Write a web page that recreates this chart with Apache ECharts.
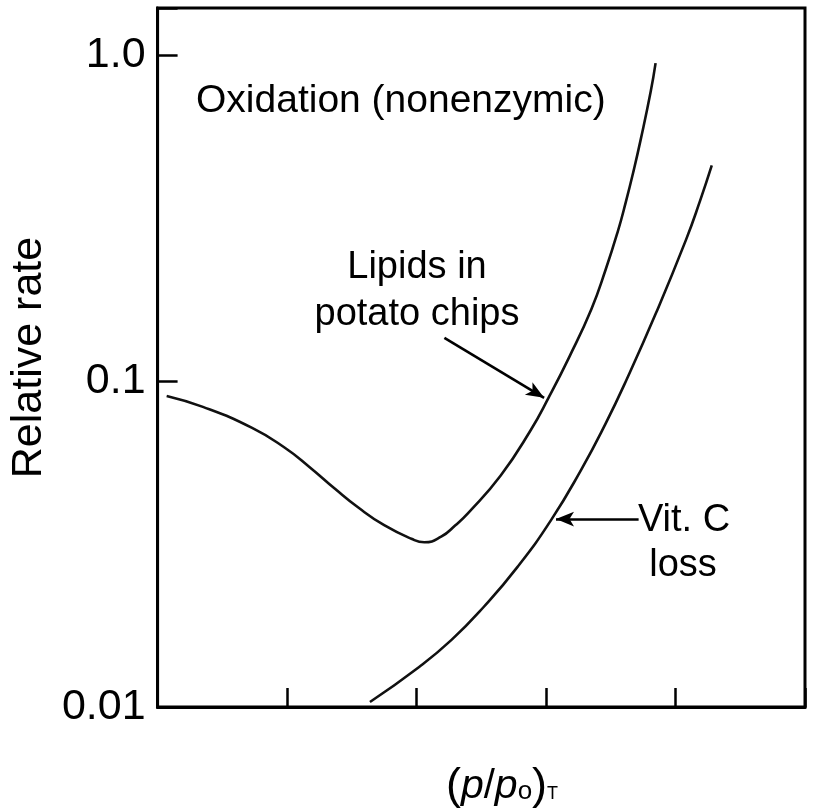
<!DOCTYPE html>
<html>
<head>
<meta charset="utf-8">
<script src="https://cdn.jsdelivr.net/npm/echarts@6/dist/echarts.min.js"></script>
<style>
  html, body { margin: 0; padding: 0; background: #fff; }
  #chart { width: 821px; height: 808px; }
</style>
</head>
<body>
<div id="chart"></div>
<script>
// ---- Data ----
// Lipids in potato chips: [ (p/p0)T in tick units, relative rate ]
const lipidsX = [0.07, 0.35, 0.73, 0.98, 1.17, 1.37, 1.55, 1.75, 1.96, 2.06, 2.19, 2.30, 2.40, 2.65, 2.88, 3.02, 3.18, 3.35, 3.46, 3.554, 3.615, 3.677, 3.731, 3.808, 3.846];
const lipidsY = [0.0900, 0.0833, 0.0718, 0.0625, 0.0546, 0.0467, 0.0409, 0.0361, 0.0328, 0.0320, 0.0333, 0.0361, 0.0394, 0.0513, 0.0705, 0.0889, 0.1186, 0.166, 0.2193, 0.2873, 0.3524, 0.4426, 0.5499, 0.7709, 0.9441];
// Vitamin C loss
const vitCX = [1.64, 2.02, 2.27, 2.52, 2.78, 3.04, 3.27, 3.46, 3.62, 3.85, 4.08, 4.19, 4.28];
const vitCY = [0.01036, 0.01327, 0.01606, 0.0203, 0.0269, 0.0375, 0.0533, 0.0740, 0.1005, 0.1618, 0.2704, 0.3573, 0.4581];

// Axis ticks
const yTickValues = [0.01, 0.1, 1];
const yTickLabels = ['0.01', '0.1', '1.0'];
const xTickValues = [0, 1, 2, 3, 4, 5];

// Annotation arrows in data units: [fromX, fromY, toX, toY]
const lipidsArrow = [2.215, 0.1355, 2.985, 0.0888];
const vitCArrow = [3.715, 0.0377, 3.077, 0.0377];

// Texts
const yAxisTitle = 'Relative rate';
const panelTitle = 'Oxidation (nonenzymic)';
const lipidsLabel = ['Lipids in', 'potato chips'];
const vitCLabel = ['Vit. C', 'loss'];

const FONT = '"Liberation Sans", Arial, Helvetica, sans-serif';

function zip(xs, ys) { return xs.map((x, i) => [x, ys[i]]); }

const chart = echarts.init(document.getElementById('chart'), null, { renderer: 'canvas' });

const option = {
  animation: false,
  backgroundColor: '#fff',
  grid: {
    left: 155, right: 16, top: 8, bottom: 101,
    show: true, borderColor: '#000', borderWidth: 3, backgroundColor: 'transparent'
  },
  xAxis: {
    type: 'value',
    min: xTickValues[0], max: xTickValues[xTickValues.length - 1], interval: 1,
    axisLine: { show: true, onZero: false, lineStyle: { color: '#000', width: 3 } },
    axisTick: { show: true, inside: true, length: 19, lineStyle: { color: '#000', width: 2.5 } },
    axisLabel: { show: false },
    splitLine: { show: false }
  },
  yAxis: {
    type: 'log', logBase: 10,
    min: 0.01, max: Math.pow(10, 0.144),
    axisLine: { show: true, lineStyle: { color: '#000', width: 3 } },
    axisTick: { show: true, inside: true, length: 20, lineStyle: { color: '#000', width: 2.5 } },
    axisLabel: {
      show: true, margin: 12, color: '#000', fontSize: 43, fontFamily: FONT,
      formatter: function (v) {
        let best = 0, bd = Infinity;
        yTickValues.forEach((t, i) => {
          const d = Math.abs(Math.log10(v) - Math.log10(t));
          if (d < bd) { bd = d; best = i; }
        });
        return bd < 0.01 ? yTickLabels[best] : '';
      }
    },
    splitLine: { show: false },
    name: yAxisTitle,
    nameLocation: 'middle',
    nameGap: 92,
    nameRotate: 90,
    nameTextStyle: { color: '#000', fontSize: 43, fontFamily: FONT }
  },
  series: [
    {
      name: 'Lipids in potato chips',
      type: 'line',
      data: zip(lipidsX, lipidsY),
      smooth: 0.5,
      showSymbol: false,
      lineStyle: { color: '#111', width: 2.6 },
      markLine: {
        silent: true,
        symbol: ['none', 'arrow'],
        symbolSize: [11, 18],
        label: { show: false },
        lineStyle: { color: '#000', width: 2.6, type: 'solid' },
        data: [[
          { coord: [lipidsArrow[0], lipidsArrow[1]] },
          { coord: [lipidsArrow[2], lipidsArrow[3]] }
        ]]
      }
    },
    {
      name: 'Vit. C loss',
      type: 'line',
      data: zip(vitCX, vitCY),
      smooth: 0.5,
      showSymbol: false,
      lineStyle: { color: '#111', width: 2.6 },
      markLine: {
        silent: true,
        symbol: ['none', 'arrow'],
        symbolSize: [11, 18],
        label: { show: false },
        lineStyle: { color: '#000', width: 2.6, type: 'solid' },
        data: [[
          { coord: [vitCArrow[0], vitCArrow[1]] },
          { coord: [vitCArrow[2], vitCArrow[3]] }
        ]]
      }
    }
  ],
  graphic: [
    { type: 'text', left: 196, top: 82, style: { text: panelTitle, fontSize: 39, fontFamily: FONT, fill: '#000' } },
    { type: 'text', x: 417, y: 268, style: { text: lipidsLabel[0], fontSize: 38, fontFamily: FONT, fill: '#000', align: 'center', verticalAlign: 'middle' } },
    { type: 'text', x: 417, y: 315, style: { text: lipidsLabel[1], fontSize: 38, fontFamily: FONT, fill: '#000', align: 'center', verticalAlign: 'middle' } },
    { type: 'text', x: 684, y: 521, style: { text: vitCLabel[0], fontSize: 38, fontFamily: FONT, fill: '#000', align: 'center', verticalAlign: 'middle' } },
    { type: 'text', x: 683, y: 566, style: { text: vitCLabel[1], fontSize: 38, fontFamily: FONT, fill: '#000', align: 'center', verticalAlign: 'middle' } },
    {
      type: 'text', x: 502, y: 785,
      style: {
        text: '{a|(}{i|p}{b|/}{i|p}{s|o}{a|)}{t|T}',
        align: 'center', verticalAlign: 'middle',
        fontFamily: FONT, fill: '#000',
        rich: {
          a: { fontSize: 45, fontFamily: FONT, fill: '#000', lineHeight: 48, verticalAlign: 'bottom' },
          b: { fontSize: 40, fontFamily: FONT, fill: '#000', lineHeight: 48, verticalAlign: 'bottom', padding: [0, 0, 2, 0] },
          i: { fontSize: 41, fontFamily: FONT, fontStyle: 'italic', fill: '#000', lineHeight: 48, verticalAlign: 'bottom', padding: [0, 0, 2, 0] },
          s: { fontSize: 26, fontFamily: FONT, fill: '#000', lineHeight: 48, verticalAlign: 'bottom', padding: [0, 0, 4, 0] },
          t: { fontSize: 18, fontFamily: FONT, fill: '#000', lineHeight: 48, verticalAlign: 'bottom', padding: [0, 0, 6, 0] }
        }
      }
    }
  ]
};

chart.setOption(option);
</script>
</body>
</html>
